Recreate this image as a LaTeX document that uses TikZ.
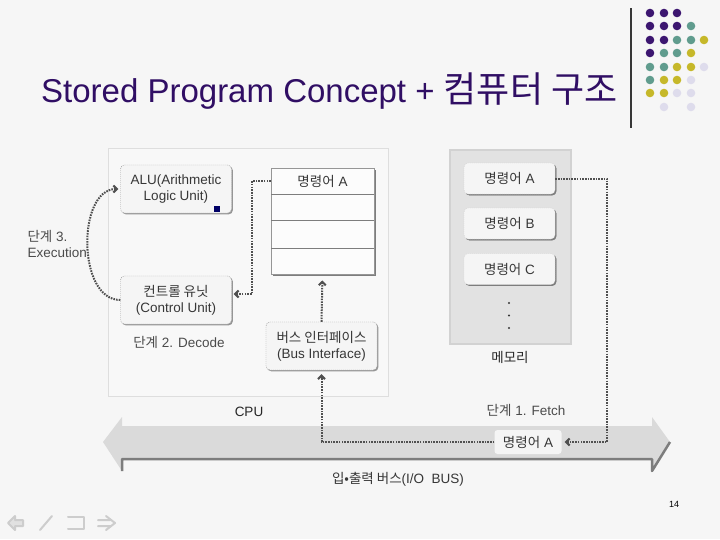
\documentclass[tikz,border=0pt]{standalone}
\usepackage{fontspec}
\setmainfont{Liberation Sans}
\newfontfamily\krfont{Noto Sans CJK KR}
\newcommand{\kr}[1]{{\krfont #1}}
\newcommand{\bodyfont}{\fontsize{13.5}{16}\selectfont}
\usepackage{tikz}
\usetikzlibrary{arrows.meta,shadows}
\definecolor{bgcolor}{RGB}{246,246,246}
\definecolor{titlepurple}{RGB}{48,14,100}
\definecolor{cpufill}{RGB}{248,248,248}
\definecolor{cpuedge}{RGB}{222,222,222}
\definecolor{boxfill}{RGB}{245,245,245}
\definecolor{boxedge}{RGB}{150,150,150}
\definecolor{shadowgray}{RGB}{150,150,150}
\definecolor{memgray}{RGB}{226,226,226}
\definecolor{memedge}{RGB}{210,210,210}
\definecolor{busgray}{RGB}{218,218,218}
\definecolor{busdark}{RGB}{125,125,125}
\definecolor{flowgray}{RGB}{80,80,80}
\definecolor{textgray}{RGB}{55,55,55}
\definecolor{navgray}{RGB}{205,205,205}
\definecolor{dotP}{RGB}{60,22,112}
\definecolor{dotT}{RGB}{96,156,142}
\definecolor{dotY}{RGB}{198,184,42}
\definecolor{dotL}{RGB}{222,220,236}
\tikzset{>={Straight Barb[length=3.5pt,width=7pt]}}

\begin{document}
\begin{tikzpicture}[x=1pt,y=-1pt,
  every node/.style={font=\bodyfont,text=textgray},
  unitbox/.style={draw=boxedge,dash pattern=on 1pt off 1pt,rounded corners=4pt,fill=boxfill,
    drop shadow={shadow xshift=1.3pt,shadow yshift=-1.3pt,fill=shadowgray,opacity=1},
    minimum width=111pt,minimum height=48pt,inner sep=2pt,align=center},
  memitem/.style={unitbox,draw=memedge,minimum width=91pt,minimum height=31pt,
    drop shadow={shadow xshift=1.3pt,shadow yshift=-1.3pt,fill=busdark,opacity=1}},
  regbox/.style={draw=boxedge,line width=0.8pt,fill=white!70!boxfill,
    drop shadow={shadow xshift=2pt,shadow yshift=-2pt,fill=busdark,opacity=1},
    minimum width=103pt,minimum height=106pt,inner sep=0pt},
  regline/.style={draw=busdark,line width=1pt},
  flow/.style={draw=flowgray,line width=2pt,dash pattern=on 1.6pt off 1.1pt},
  steplabel/.style={text=textgray!90!white},
  navicon/.style={draw=navgray,line width=2pt,line cap=round,line join=round}]
\useasboundingbox (0,0) rectangle (720,539);
\fill[bgcolor] (0,0) rectangle (720,539);

% title and corner decoration
\node[anchor=base west,inner sep=0pt,font=\fontsize{33}{36}\selectfont,text=titlepurple] (title) at (41,102) {Stored Program Concept + {\fontsize{36}{38}\selectfont\kr{컴퓨터 구조}}};
\draw[textgray,line width=1.2pt] (631,8) -- (631,128);
\fill[dotP] (650,13) circle (4.3) (664,13) circle (4.3) (677,13) circle (4.3)
  (650,26) circle (4.3) (664,26) circle (4.3) (677,26) circle (4.3)
  (650,40) circle (4.3) (664,40) circle (4.3) (650,53) circle (4.3);
\fill[dotT] (691,26) circle (4.3) (677,40) circle (4.3) (691,40) circle (4.3)
  (664,53) circle (4.3) (677,53) circle (4.3) (650,67) circle (4.3)
  (664,67) circle (4.3) (650,80) circle (4.3);
\fill[dotY] (704,40) circle (4.3) (691,53) circle (4.3) (677,67) circle (4.3)
  (691,67) circle (4.3) (664,80) circle (4.3) (677,80) circle (4.3)
  (650,93) circle (4.3) (664,93) circle (4.3);
\fill[dotL] (704,67) circle (4.3) (691,80) circle (4.3) (677,93) circle (4.3)
  (691,93) circle (4.3) (664,107) circle (4.3) (691,107) circle (4.3);

% CPU
\node[draw=cpuedge,line width=1pt,fill=cpufill,minimum width=280pt,minimum height=248pt] (cpu) at (248,272) {};
\node[unitbox] (alu) at (176,189) {ALU(Arithmetic\\Logic Unit)};
\fill[blue!40!black] (214,206) rectangle (220,212);
\node[unitbox] (cu) at (176,300) {\kr{컨트롤 유닛}\\(Control Unit)};
\node[steplabel] (decode) at (179,342) {\kr{단계} 2. Decode};
\node[steplabel,anchor=west,align=left] (execute) at (24,244) {\kr{단계} 3.\\Execution};
\node[regbox] (reg) at (322.5,221) {};
\node[minimum width=103pt,minimum height=26pt,inner sep=0pt] (regA) at (322.5,181) {\kr{명령어} A};
\draw[regline] (271,194) -- (374,194);
\draw[regline] (271,220) -- (374,220);
\draw[regline] (271,248) -- (374,248);
\node[unitbox] (bi) at (321.5,346) {\kr{버스 인터페이스}\\(Bus Interface)};
\node[text=black!85] (cpulabel) at (249,412) {CPU};

% memory
\node[draw=memedge,line width=1.5pt,fill=memgray,minimum width=121pt,minimum height=194pt] (mem) at (510.5,247) {};
\node[memitem] (memA) at (509.5,178.5) {\kr{명령어} A};
\node[memitem] (memB) at (509.5,223.5) {\kr{명령어} B};
\node[memitem] (memC) at (509.5,269) {\kr{명령어} C};
\fill[textgray] (509,303) circle (1.2) (509,315.5) circle (1.2) (509,328) circle (1.2);
\node[text=black!85] (memlabel) at (510,357) {\kr{메모리}};

% I/O bus
\fill[busgray] (103,442) -- (122,417) -- (122,426) -- (652,426) -- (652,417) -- (670,442)
  -- (652,471) -- (652,459) -- (122,459) -- (122,471) -- cycle;
\draw[busdark,line width=2.5pt,line join=round] (122,471) -- (122,459) -- (652,459) -- (652,471) -- (670,442);
\node[fill=boxfill,rounded corners=3pt,minimum width=67pt,minimum height=24pt,inner sep=0pt] (busA) at (528,442) {\kr{명령어} A};
\node[steplabel] (fetchlabel) at (526,410) {\kr{단계} 1. Fetch};
\node (buslabel) at (398,479) {\kr{입•출력 버스}(I/O~ BUS)};

% connectors
\coordinate (fetch) at (607,442);
\coordinate (dec) at (252,294);
\draw[flow,->,shorten >=3pt] (memA.east) -| (fetch) -- (busA.east);
\draw[flow,->,shorten >=4pt] (busA.west) -| (bi.south);
\draw[flow,->,shorten >=6pt] (bi.north) -- (reg.south);
\draw[flow,->,shorten >=2pt] (regA.west) -| (dec) -- (dec -| cu.east);
\draw[flow,->,shorten >=2pt] (cu.west) to[out=180,in=180] (alu.west);

% page number and navigation
\node[font=\fontsize{9}{10}\selectfont,text=black] (page) at (674,504) {14};
\draw[navicon,fill=navgray!60!white] (8,523) -- (15,516) -- (15,520) -- (23,520) -- (23,526) -- (15,526) -- (15,530) -- cycle;
\draw[navicon] (40,530) -- (52,516);
\draw[navicon] (68,517) -- (84,517) -- (84,529) -- (68,529);
\draw[navicon] (98,520) -- (110,520) (98,526) -- (110,526) (106,516) -- (115,523) -- (106,530);
\end{tikzpicture}
\end{document}
